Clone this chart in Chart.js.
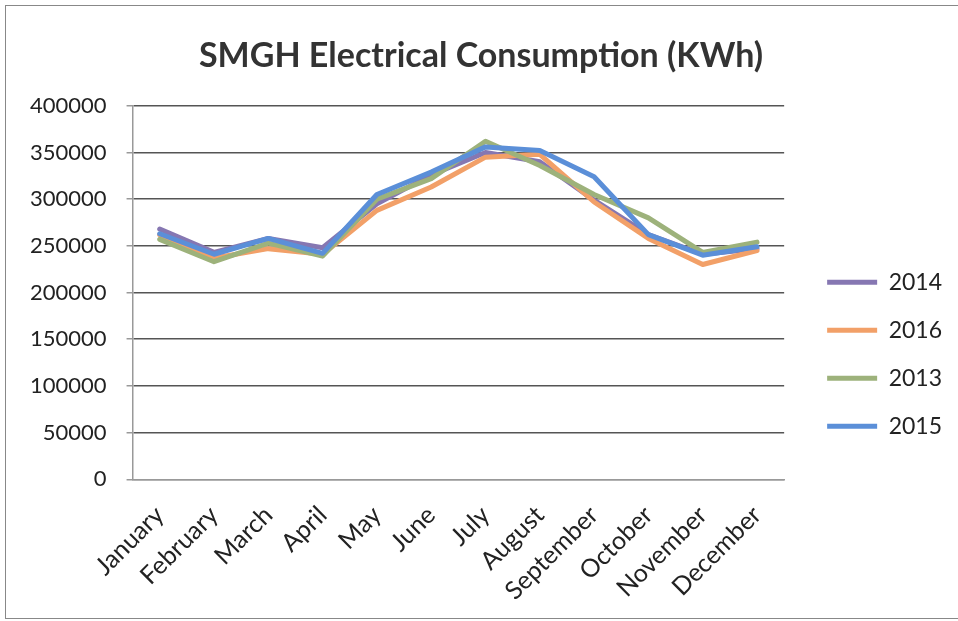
<!DOCTYPE html>
<html>
<head>
<meta charset="utf-8">
<script src="https://cdn.jsdelivr.net/npm/chart.js@4"></script>
<style>
  html, body { margin: 0; padding: 0; background: #fff; }
  #wrap { position: relative; width: 958px; height: 621px; }
  #frame { position: absolute; left: 5px; top: 5px; width: 960px; height: 612px;
           border: 1.5px solid #888; pointer-events: none; }
</style>
</head>
<body>
<div id="wrap">
  <canvas id="chart" width="958" height="621"></canvas>
  <div id="frame"></div>
</div>
<script>
const months = ['January', 'February', 'March', 'April', 'May', 'June',
  'July', 'August', 'September', 'October', 'November', 'December'];

const y2014 = [268000, 243000, 258000, 248000, 295000, 326000, 350000, 340000, 299000, 262000, 241000, 247000];
const y2016 = [262000, 237000, 247000, 241000, 288000, 313000, 345000, 348000, 297000, 258000, 230000, 245000];
const y2013 = [257000, 233000, 253000, 239000, 300000, 322000, 362000, 336000, 305000, 280000, 243000, 254000];
const y2015 = [263000, 241000, 258000, 242000, 305000, 329000, 356000, 352000, 324000, 262000, 240000, 249000];

const fontFamily = 'Lato, "Open Sans", sans-serif';

// Excel draws later series on top, so the lowest `order` goes to 2015
function series(label, data, color, order) {
  return {
    label,
    data,
    borderColor: color,
    backgroundColor: color,
    borderWidth: 5,
    pointRadius: 0,
    tension: 0,
    borderJoinStyle: 'round',
    borderCapStyle: 'round',
    order,
  };
}

const data = {
  labels: months,
  datasets: [
    series('2014', y2014, '#8677b2', 4),
    series('2016', y2016, '#f2a068', 3),
    series('2013', y2013, '#9db27b', 2),
    series('2015', y2015, '#5b8fd8', 1),
  ],
};

const options = {
  responsive: false,
  animation: false,
  layout: { padding: { left: 10, right: 6, bottom: 2 } },
  scales: {
    x: {
      offset: true,
      grid: { display: false },
      border: { display: true, color: '#999', width: 1.5 },
      ticks: {
        color: '#222',
        font: { family: fontFamily, size: 25 },
        minRotation: 45,
        maxRotation: 45,
        padding: 13,
      },
    },
    y: {
      min: 0,
      max: 400000,
      ticks: {
        stepSize: 50000,
        color: '#222',
        font: { family: fontFamily, size: 22 },
        padding: 20,
        callback: (v) => String(v),
      },
      grid: {
        color: (ctx) => (ctx.tick && ctx.tick.value === 0 ? '#999' : '#555'),
        lineWidth: 1.5,
        tickLength: 6,
        tickColor: '#999',
      },
      border: { display: true, color: '#999', width: 1.5 },
    },
    // empty spacer between the plot and the legend
    gap: {
      position: 'right',
      ticks: { display: false },
      grid: { display: false },
      border: { display: false },
      afterFit: (scale) => { scale.width = 18; },
    },
  },
  plugins: {
    title: {
      display: true,
      text: 'SMGH Electrical Consumption (KWh)',
      color: '#333',
      font: { family: fontFamily, size: 34, weight: 'bold' },
      padding: { top: 36, bottom: 29 },
    },
    legend: {
      position: 'right',
      title: { display: true, text: '', padding: { top: 75, bottom: 0 } },
      labels: {
        usePointStyle: true,
        pointStyle: 'line',
        pointStyleWidth: 50,
        color: '#222',
        font: { family: fontFamily, size: 23 },
        padding: 25,
        sort: (a, b) => a.datasetIndex - b.datasetIndex,
      },
    },
    tooltip: { enabled: false },
  },
};

new Chart(document.getElementById('chart'), { type: 'line', data, options });
</script>
</body>
</html>
